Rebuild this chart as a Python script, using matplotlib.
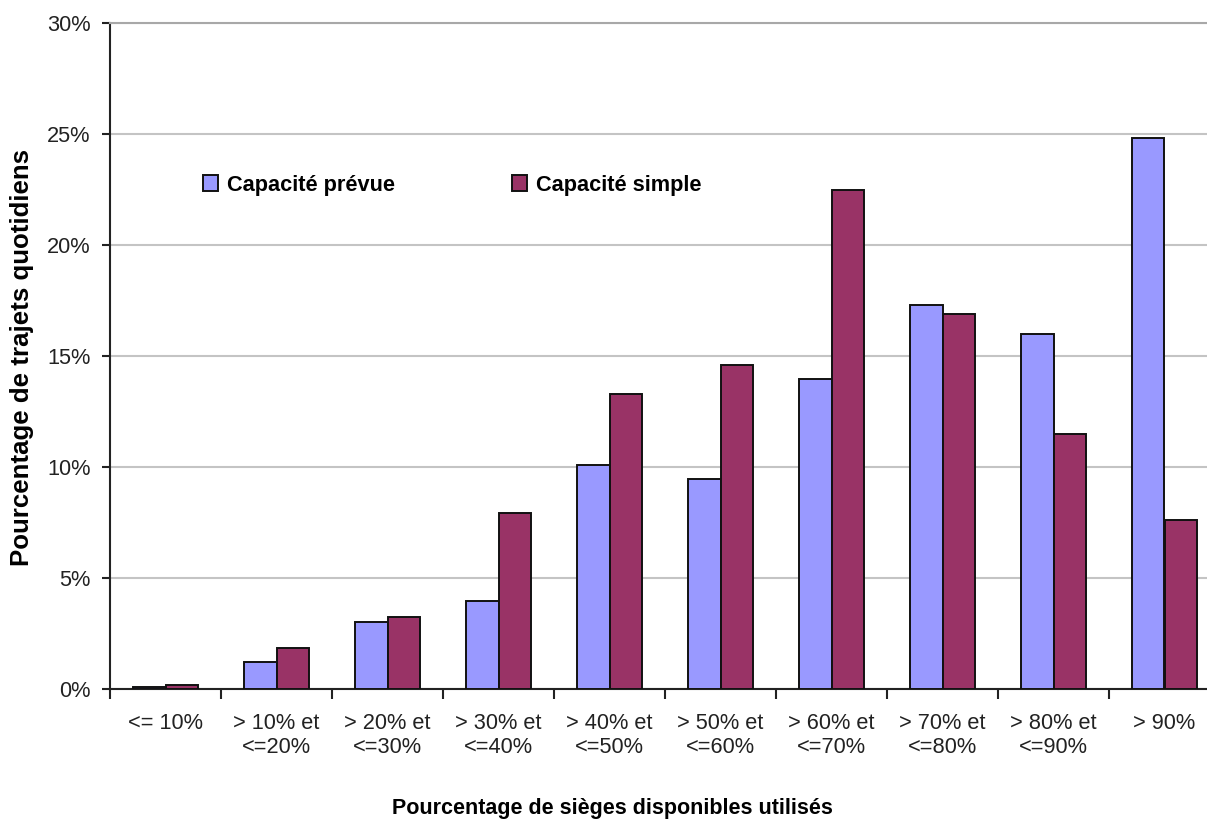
import numpy as np
from matplotlib import pyplot as plt
from matplotlib.patches import Patch

plt.rcParams['font.family'] = ['Liberation Sans', 'DejaVu Sans']

categories = ["<= 10%", "> 10% et\n<=20%", "> 20% et\n<=30%", "> 30% et\n<=40%",
              "> 40% et\n<=50%", "> 50% et\n<=60%", "> 60% et\n<=70%",
              "> 70% et\n<=80%", "> 80% et\n<=90%", "> 90%"]
capacite_prevue = [0.1, 1.2, 3.0, 3.95, 10.1, 9.45, 13.95, 17.3, 16.0, 24.8]
capacite_simple = [0.2, 1.85, 3.25, 7.95, 13.3, 14.6, 22.5, 16.9, 11.5, 7.6]
y_ticks = [0, 5, 10, 15, 20, 25, 30]

blue = '#9999FF'
red = '#993366'

fig = plt.figure(figsize=(12.07, 8.31), dpi=100)
ax = fig.add_axes([110 / 1207, 142 / 831, 1110 / 1207, 666 / 831])

x = np.arange(len(categories))
w = 0.29
ax.bar(x - w / 2, capacite_prevue, w, color=blue, edgecolor='#111111', linewidth=1.4, zorder=3)
ax.bar(x + w / 2, capacite_simple, w, color=red, edgecolor='#111111', linewidth=1.4, zorder=3)

ax.set_xlim(-0.5, len(categories) - 0.5)
ax.set_ylim(0, 30)

ax.set_yticks(y_ticks)
ax.set_yticklabels([f"{v}%" for v in y_ticks])
ax.yaxis.grid(True, color='#c4c4c4', linewidth=1.5, zorder=0)
ax.set_axisbelow(True)

ax.set_xticks(x)
ax.set_xticklabels(categories, linespacing=1.2)
ax.set_xticks(np.arange(len(categories)) - 0.5, minor=True)
ax.tick_params(axis='x', which='major', length=0, pad=17, labelsize=15.7, colors='#222222')
ax.tick_params(axis='x', which='minor', length=7, width=1.5, direction='out', color='#222222')
ax.tick_params(axis='y', length=6, width=1.5, pad=8, labelsize=15.7, colors='#222222')

ax.spines['right'].set_visible(False)
ax.spines['top'].set_color('#a8a8a8')
ax.spines['top'].set_linewidth(1.5)
for s in ['left', 'bottom']:
    ax.spines[s].set_linewidth(1.5)
    ax.spines[s].set_color('#222222')

ax.set_xlabel("Pourcentage de sièges disponibles utilisés", fontsize=15.5,
              fontweight='bold', va='center')
ax.xaxis.set_label_coords(0.453, -0.1787)
ax.set_ylabel("Pourcentage de trajets quotidiens", fontsize=18.6,
              fontweight='bold', va='center')
ax.yaxis.set_label_coords(-0.0793, 0.498)

handles = [Patch(facecolor=blue, edgecolor='#111111', linewidth=1.4, label='Capacité prévue'),
           Patch(facecolor=red, edgecolor='#111111', linewidth=1.4, label='Capacité simple')]
fig.legend(handles=handles, loc='center left', bbox_to_anchor=(203 / 1207, 1 - 185 / 831),
           ncol=2, frameon=False, borderpad=0, borderaxespad=0,
           handlelength=0.7, handleheight=0.7, handletextpad=0.4, columnspacing=5.35,
           prop={'weight': 'bold', 'size': 15.7})

plt.savefig('out.png', dpi=100)
plt.close()
